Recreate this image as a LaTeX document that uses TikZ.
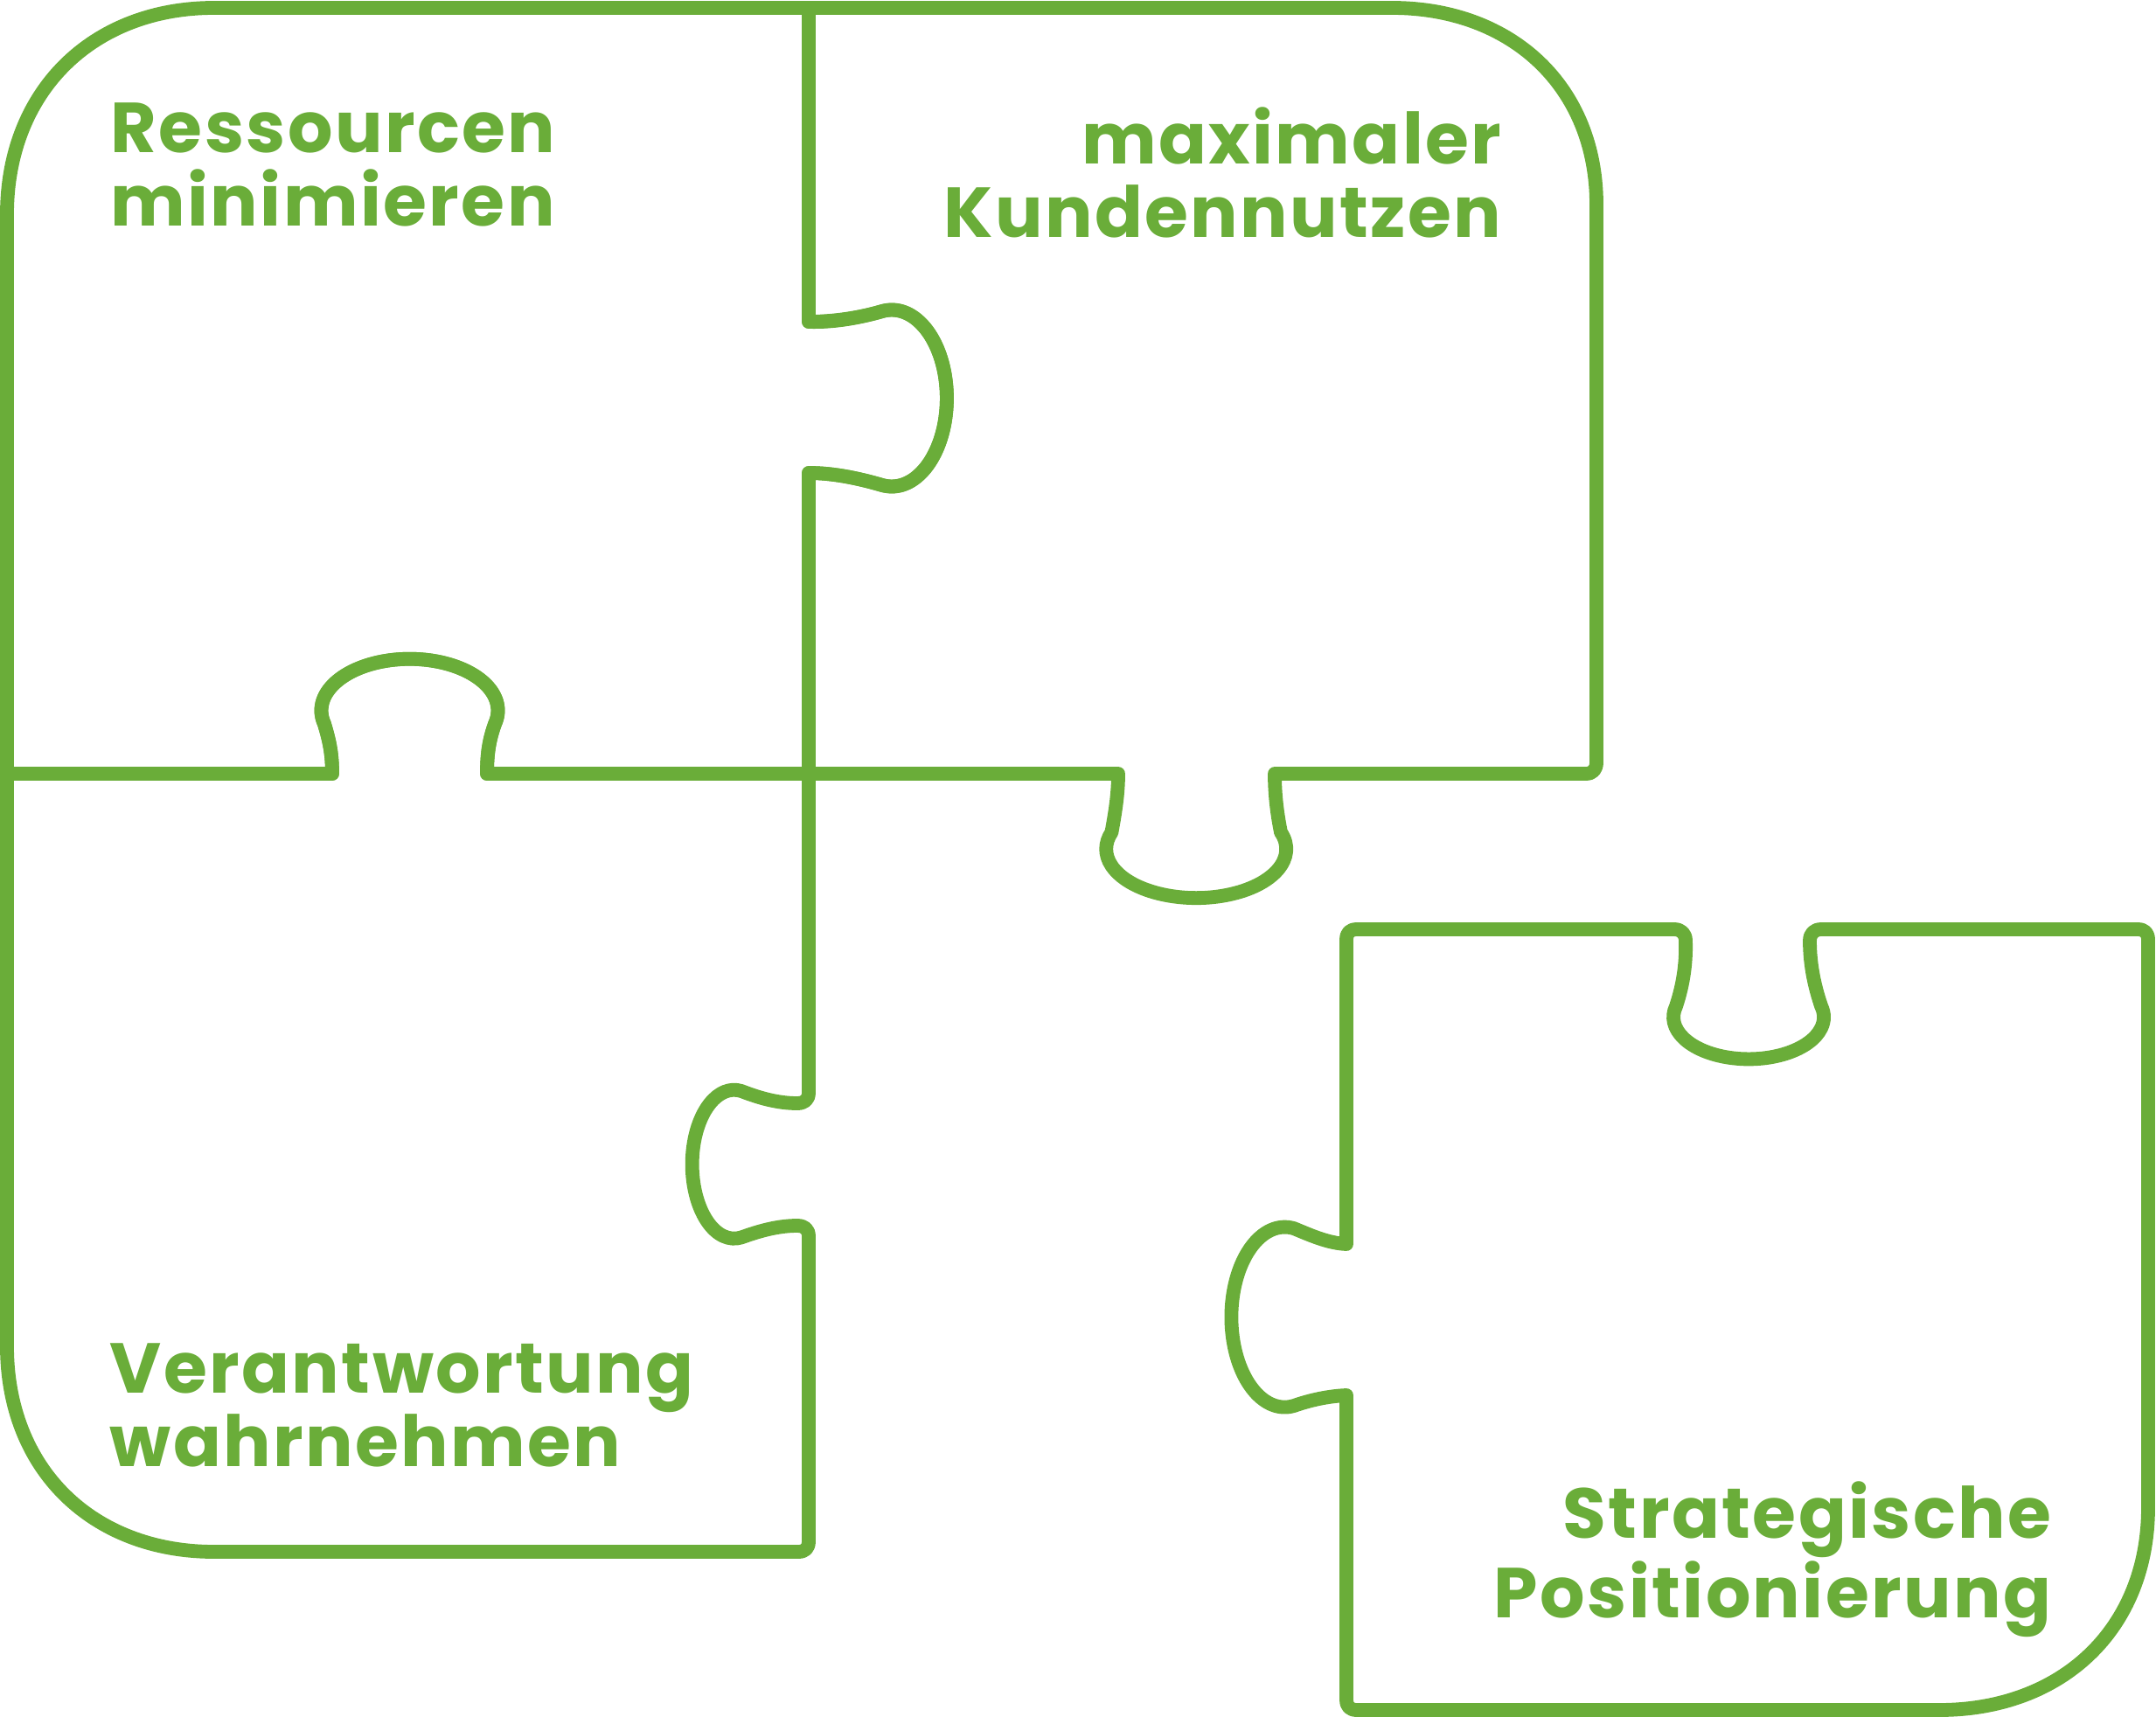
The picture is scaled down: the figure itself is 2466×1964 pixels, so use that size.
\documentclass[tikz,border=0pt]{standalone}
\usepackage{fontspec}
\setmainfont{Poppins}[LetterSpace=3]
\definecolor{pz}{RGB}{106,173,57}
\begin{document}
\begin{tikzpicture}[x=0.01cm,y=-0.01cm,
  piece/.style={draw=pz, line width=4.5pt, line join=round},
  lbl/.style={text=pz, font=\fontsize{23}{23.9}\selectfont\bfseries, inner sep=0pt}]
\useasboundingbox (0,0) rectangle (2466,1964);
% top-left piece
\draw[piece] (245,9) -- (925,9) -- (925,368)
 .. controls (955,369) and (985,363) .. (1009,356)
 arc[start angle=-100, end angle=100, x radius=63, y radius=101]
 .. controls (985,548) and (955,541) .. (925,541)
 -- (925,885) -- (557,885)
 .. controls (557,860) and (560,845) .. (566,828)
 arc[start angle=15, end angle=-195, x radius=101, y radius=59]
 .. controls (376,845) and (380,860) .. (380,885)
 -- (8,885) -- (8,245) .. controls (8,105) and (105,9) .. (245,9) -- cycle;
% top-right piece
\draw[piece] (925,9) -- (1592,9) .. controls (1730,9) and (1826,100) .. (1826,234)
 -- (1826,872) .. controls (1826,880) and (1822,885) .. (1814,885) -- (1458,885)
 .. controls (1458,910) and (1461,932) .. (1465,952)
 arc[start angle=-20, end angle=200, x radius=103, y radius=56]
 .. controls (1275,932) and (1279,910) .. (1279,885)
 -- (925,885) -- (925,541) .. controls (955,541) and (985,548) .. (1009,555)
 arc[start angle=100, end angle=-100, x radius=63, y radius=101]
 .. controls (985,363) and (955,368) .. (925,368) -- cycle;
% bottom-left piece
\draw[piece] (8,885) -- (380,885) .. controls (380,860) and (376,845) .. (371,828)
 arc[start angle=-195, end angle=15, x radius=101, y radius=59]
 .. controls (560,845) and (557,860) .. (557,885) -- (925,885) -- (925,1250)
 .. controls (925,1258) and (920,1262) .. (912,1262)
 .. controls (888,1262) and (866,1255) .. (848,1248)
 arc[start angle=-80, end angle=-280, x radius=48, y radius=85]
 .. controls (866,1409) and (888,1402) .. (912,1402)
 .. controls (920,1402) and (925,1406) .. (925,1414) -- (925,1763)
 .. controls (925,1771) and (921,1775) .. (913,1775) -- (245,1775)
 .. controls (105,1775) and (8,1680) .. (8,1540) -- cycle;
% bottom-right piece
\draw[piece] (1552,1063) -- (1915,1063) .. controls (1923,1063) and (1928,1068) .. (1928,1076)
 .. controls (1929,1105) and (1924,1130) .. (1917,1151)
 arc[start angle=195, end angle=-15, x radius=86, y radius=48]
 .. controls (2076,1130) and (2070,1105) .. (2070,1076)
 .. controls (2070,1068) and (2075,1063) .. (2083,1063) -- (2445,1063)
 .. controls (2453,1063) and (2457,1067) .. (2457,1075) -- (2457,1724)
 .. controls (2457,1864) and (2358,1956) .. (2218,1956) -- (1552,1956)
 .. controls (1544,1956) and (1540,1952) .. (1540,1944) -- (1540,1596)
 .. controls (1518,1597) and (1497,1602) .. (1480,1608)
 arc[start angle=80, end angle=280, x radius=61, y radius=103]
 .. controls (1497,1412) and (1518,1422) .. (1540,1423)
 -- (1540,1075) .. controls (1540,1067) and (1544,1063) .. (1552,1063) -- cycle;
% labels
\node[lbl, anchor=north west, align=left] (t1) at (126,117) {Ressourcen\\minimieren};
\node[lbl, anchor=north east, align=right] (t2) at (1718,122) {maximaler\\Kundennutzen};
\node[lbl, anchor=north west, align=left] (t3) at (125,1536) {Verantwortung\\wahrnehmen};
\node[lbl, anchor=north east, align=right] (t4) at (2347,1694) {Strategische\\Positionierung};
\end{tikzpicture}
\end{document}
